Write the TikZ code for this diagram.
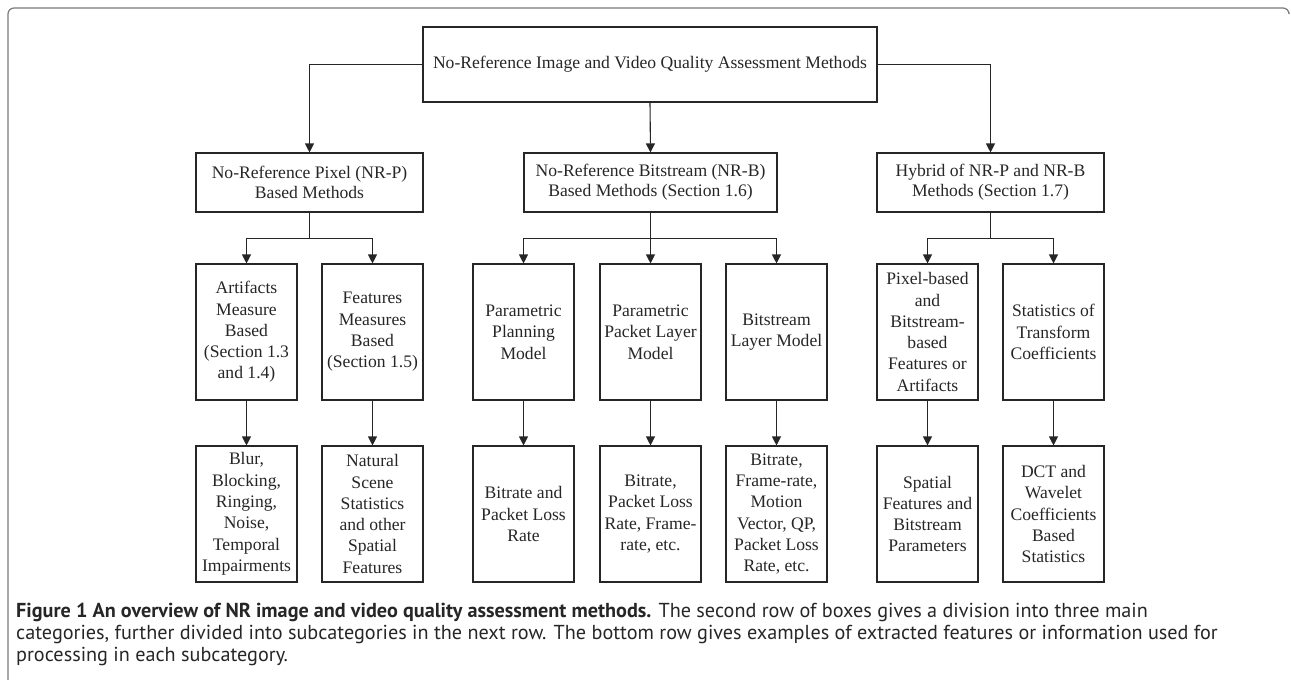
\documentclass[tikz,border=0pt]{standalone}
\usepackage{fontspec}
\setmainfont{Liberation Serif}
\newfontfamily\capfont{PT Sans}
\usetikzlibrary{arrows.meta}

\definecolor{ink}{HTML}{262626}
\definecolor{framegray}{HTML}{7A7A7A}

\tikzset{
  box/.style={draw=ink, line width=1.1pt, inner sep=0pt, align=center,
    text=ink, font=\fontsize{17.6}{21.3}\selectfont},
  tallbox/.style={box, minimum width=101pt, minimum height=136pt},
  headbox/.style={box, minimum height=59pt, font=\fontsize{17.6}{20}\selectfont},
  arr/.style={draw=ink, line width=1.1pt, -{Triangle[length=9pt,width=9pt]}},
  capline/.style={anchor=base west, inner sep=0pt, text=ink,
    font=\capfont\fontsize{20.2}{22}\selectfont}
}

\begin{document}
\begin{tikzpicture}[x=1pt, y=-1pt]
  \useasboundingbox (0,0) rectangle (1291,680);

  % outer frame: left and top rules with a rounded corner
  \draw[framegray, line width=1.2pt, rounded corners=6pt]
    (8,681) -- (8,8) -- (1289,8) -- (1289,12);

  % root
  \node[box, minimum width=454pt, minimum height=75pt] (root) at (650,64.5)
    {No-Reference Image and Video Quality Assessment Methods};

  % main categories
  \node[headbox, minimum width=227pt] (nrp) at (309.5,182.5)
    {No-Reference Pixel (NR-P)\\Based Methods};
  \node[headbox, minimum width=253pt] (nrb) at (650.5,182.5)
    {No-Reference Bitstream (NR-B)\\Based Methods (Section 1.6)};
  \node[headbox, minimum width=227pt] (hyb) at (990.5,182.5)
    {Hybrid of NR-P and NR-B\\Methods (Section 1.7)};

  % subcategories
  \node[tallbox] (art) at (246.5,332)
    {Artifacts\\Measure\\Based\\(Section 1.3\\and 1.4)};
  \node[tallbox] (feat) at (372.5,332)
    {Features\\Measures\\Based\\(Section 1.5)};
  \node[tallbox] (plan) at (523.5,332)
    {Parametric\\Planning\\Model};
  \node[tallbox] (pkt) at (650.5,332)
    {Parametric\\Packet Layer\\Model};
  \node[tallbox] (bsl) at (776.5,332)
    {Bitstream\\Layer Model};
  \node[tallbox] (pix) at (927.5,332)
    {Pixel-based\\and\\Bitstream-\\based\\Features or\\Artifacts};
  \node[tallbox] (stat) at (1053.5,332)
    {Statistics of\\Transform\\Coefficients};

  % examples
  \node[tallbox] (ex1) at (246.5,514)
    {Blur,\\Blocking,\\Ringing,\\Noise,\\Temporal\\Impairments};
  \node[tallbox] (ex2) at (372.5,514)
    {Natural\\Scene\\Statistics\\and other\\Spatial\\Features};
  \node[tallbox] (ex3) at (523.5,514)
    {Bitrate and\\Packet Loss\\Rate};
  \node[tallbox] (ex4) at (650.5,514)
    {Bitrate,\\Packet Loss\\Rate, Frame-\\rate, etc.};
  \node[tallbox] (ex5) at (776.5,514)
    {Bitrate,\\Frame-rate,\\Motion\\Vector, QP,\\Packet Loss\\Rate, etc.};
  \node[tallbox] (ex6) at (927.5,514)
    {Spatial\\Features and\\Bitstream\\Parameters};
  \node[tallbox] (ex7) at (1053.5,514)
    {DCT and\\Wavelet\\Coefficients\\Based\\Statistics};

  % root to categories
  \draw[arr] (root.west) -| (nrp.north);
  \draw[arr] (root.south) -- (nrb.north);
  \draw[arr] (root.east) -| (hyb.north);

  % categories to subcategories
  \draw[arr] (nrp.south) -- ++(0,26) -| (art.north);
  \draw[arr] (nrp.south) -- ++(0,26) -| (feat.north);
  \draw[arr] (nrb.south) -- (pkt.north);
  \draw[arr] (nrb.south) -- ++(0,26) -| (plan.north);
  \draw[arr] (nrb.south) -- ++(0,26) -| (bsl.north);
  \draw[arr] (hyb.south) -- ++(0,26) -| (pix.north);
  \draw[arr] (hyb.south) -- ++(0,26) -| (stat.north);

  % subcategories to examples
  \foreach \a/\b in {art/ex1, feat/ex2, plan/ex3, pkt/ex4, bsl/ex5, pix/ex6, stat/ex7}
    \draw[arr] (\a.south) -- (\b.north);

  % caption
  \node[capline] (cap1) at (16,617)
    {\textbf{Figure 1 An overview of NR image and video quality assessment methods.} The second row of boxes gives a division into three main};
  \node[capline] (cap2) at (16,639)
    {categories, further divided into subcategories in the next row. The bottom row gives examples of extracted features or information used for};
  \node[capline] (cap3) at (16,661)
    {processing in each subcategory.};
\end{tikzpicture}
\end{document}
